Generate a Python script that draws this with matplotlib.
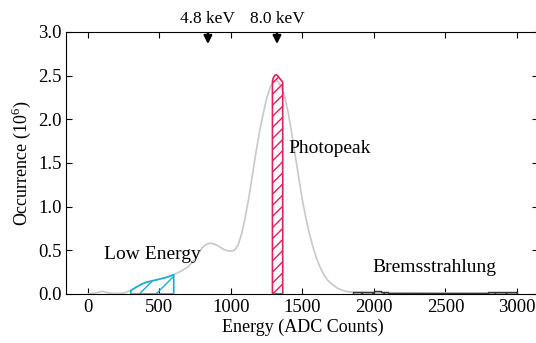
import matplotlib.pyplot as plt

plt.rcParams['font.family'] = ['Liberation Serif', 'DejaVu Serif']
plt.rcParams['mathtext.fontset'] = 'custom'
plt.rcParams['mathtext.rm'] = 'Liberation Serif'

# full spectrum (ADC counts, occurrence in 10^6)
spec_x = [0, 50, 100, 150, 200, 250, 300, 350, 400, 450, 500, 550, 600, 650, 700, 750,
          775, 800, 825, 850, 875, 900, 925, 950, 975, 1000, 1025, 1050, 1075, 1100, 1125,
          1150, 1175, 1200, 1225, 1250, 1275, 1300, 1325, 1350, 1375, 1400, 1425, 1450,
          1475, 1500, 1525, 1550, 1575, 1600, 1625, 1650, 1675, 1700, 1750, 1800, 1850,
          1900, 2000, 2100, 2200, 2300, 2400, 2500, 2600, 2700, 2800, 2900, 3000]
spec_y = [0.0, 0.01, 0.03, 0.01, 0.005, 0.01, 0.04, 0.09, 0.13, 0.15, 0.17, 0.19, 0.22,
          0.26, 0.31, 0.40, 0.47, 0.53, 0.565, 0.58, 0.575, 0.56, 0.535, 0.51, 0.495,
          0.49, 0.50, 0.56, 0.69, 0.88, 1.10, 1.36, 1.62, 1.86, 2.06, 2.24, 2.37, 2.43,
          2.44, 2.38, 2.26, 2.08, 1.84, 1.58, 1.32, 1.07, 0.86, 0.68, 0.53, 0.40, 0.30,
          0.22, 0.16, 0.12, 0.06, 0.03, 0.02, 0.018, 0.016, 0.014, 0.013, 0.012, 0.011,
          0.011, 0.010, 0.010, 0.010, 0.010, 0.008]

# selected regions
low_x = [300, 350, 400, 450, 500, 550, 600]
low_y = [0.04, 0.09, 0.13, 0.15, 0.17, 0.19, 0.22]

peak_x = [1290, 1295, 1305, 1315, 1325, 1335, 1345, 1355, 1362]
peak_y = [2.43, 2.47, 2.50, 2.51, 2.50, 2.48, 2.46, 2.44, 2.43]

brem_x = [1850, 1900, 1950, 2000, 2050, 2100, 2200, 2300, 2400, 2500, 2600, 2700, 2800, 2900, 3000]
brem_y = [0.02, 0.025, 0.02, 0.03, 0.02, 0.015, 0.012, 0.01, 0.012, 0.01, 0.01, 0.008, 0.02, 0.02, 0.02]

arrow_x = [839, 1322]
arrow_labels = ['4.8 keV', '8.0 keV']

fig = plt.figure(figsize=(5.36, 3.43), dpi=100)
ax = fig.add_axes([0.124, 0.143, 0.8806, 0.7638])

ax.plot(spec_x, spec_y, color='#c8c8c8', lw=1.2, zorder=2)

ax.fill_between(low_x, low_y, 0, facecolor='none', edgecolor='#1aaed6', hatch='//', lw=1.2, zorder=3)
ax.fill_between(peak_x, peak_y, 0, facecolor='none', edgecolor='#e0205a', hatch='///', lw=1.2, zorder=3)
ax.fill_between(brem_x, brem_y, 0, step='post', facecolor='none', edgecolor='#333333',
                hatch='///', lw=1.0, zorder=3)

ax.text(452, 0.45, 'Low Energy', fontsize=14, ha='center', va='center')
ax.text(1400, 1.67, 'Photopeak', fontsize=14, ha='left', va='center')
ax.text(2420, 0.30, 'Bremsstrahlung', fontsize=14, ha='center', va='center')

for xa, lab in zip(arrow_x, arrow_labels):
    ax.annotate('', xy=(xa, 2.83), xytext=(xa, 3.02),
                arrowprops=dict(arrowstyle='-|>', color='black', lw=1.6, mutation_scale=12),
                annotation_clip=False)
    ax.text(xa, 3.06, lab, fontsize=12.5, ha='center', va='bottom')

ax.set_xlim(-150, 3150)
ax.set_ylim(0, 3.0)
ax.set_xticks([0, 500, 1000, 1500, 2000, 2500, 3000])
ax.set_yticks([0.0, 0.5, 1.0, 1.5, 2.0, 2.5, 3.0])
ax.set_yticklabels(['0.0', '0.5', '1.0', '1.5', '2.0', '2.5', '3.0'])
ax.tick_params(direction='in', top=True, right=True, length=4, labelsize=13.5)
ax.set_xlabel('Energy (ADC Counts)', fontsize=13, labelpad=2)
ax.set_ylabel('Occurrence (10$^{6}$)', fontsize=13, labelpad=4)

fig.savefig('out.png', dpi=100)
